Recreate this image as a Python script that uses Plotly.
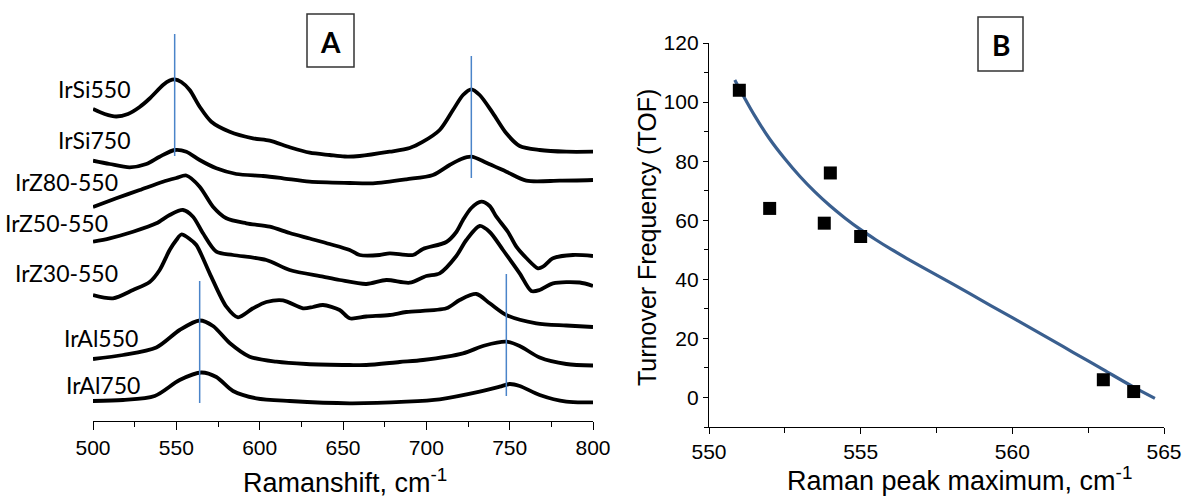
import plotly.graph_objects as go

W, H = 1187, 497

# ---- Panel A: stacked Raman spectra (offset intensities, a.u.) ----
si550_w = [500, 507, 514, 521, 528, 534, 542, 546, 549, 553, 558, 564, 571, 582, 596, 606, 618, 630, 642, 651,
           660, 678, 690, 698, 708, 716, 722, 727, 732, 740, 748, 756, 768, 784, 800]
si550_i = [331, 326, 323.5, 326, 333, 341.5, 355, 359.5, 360.7, 358, 350, 333.3, 318.3, 308.3, 301.7, 299.3, 292.7,
           287.3, 285, 283.5, 284, 288.3, 292, 298.3, 310, 330, 345, 350.7, 345, 326.7, 306.7, 294, 290, 288.3, 288.3]

si750_w = [500, 510, 522, 532, 540, 549, 556, 564, 574, 586, 602, 614, 630, 654, 668, 688, 704, 714, 721, 727,
           736, 748, 760, 780, 800]
si750_i = [279.3, 276, 272.7, 276, 283.3, 290, 288.3, 280, 271.7, 266, 264, 261.7, 258.3, 257, 256.7, 260.7, 265,
           275, 281, 283.3, 277.3, 268.3, 259.3, 259.3, 260]

z80_w = [500, 514, 528, 542, 550, 556, 564, 572, 580, 592, 606, 618, 630, 642, 654, 660, 672, 678, 692, 698,
         712, 718, 722, 727, 733, 738, 742, 749, 754, 760, 767, 770, 776, 788, 800]
z80_i = [233, 241.7, 250, 258.3, 262, 264.5, 253.3, 233.3, 221.7, 216.7, 213.3, 207, 201.5, 196, 190, 185, 185,
         186.7, 185, 191, 198, 208, 220, 232, 238.3, 234, 223.3, 208, 193.3, 182, 171.7, 173.3, 181.7, 185, 184]

z50_w = [500, 510, 524, 538, 546, 554, 560, 566, 574, 584, 604, 618, 638, 648, 664, 676, 690, 700, 708, 718,
         724, 732, 738, 746, 756, 763, 768, 776, 792, 800]
z50_i = [198.3, 201.7, 208.3, 216.7, 225, 230, 223.3, 206.7, 188.3, 185, 180, 170, 163.3, 160, 156, 160, 157.3,
         164, 166.7, 184, 200, 214, 208, 190, 166.7, 149, 150, 156.7, 157.5, 154]

z30_w = [500, 512, 524, 534, 540, 546, 550, 553, 558, 562, 570, 580, 587, 596, 604, 614, 626, 632, 638, 648,
         654, 664, 678, 688, 712, 720, 730, 738, 748, 766, 784, 800]
z30_i = [145, 141.7, 150, 158, 170, 190, 200, 205.5, 201, 195, 166.7, 133.3, 122.7, 131.7, 138, 139.7, 131.7,
         133, 135, 130, 121.7, 123.5, 125, 128, 131.7, 140, 146, 136.7, 125, 116.7, 114.5, 113]

al550_w = [500, 518, 538, 552, 564, 572, 582, 594, 610, 628, 654, 664, 684, 698, 722, 735, 748, 756, 768, 784, 800]
al550_i = [81, 85, 92.5, 110, 119.5, 114, 97, 83.3, 78.3, 76, 75, 75, 78, 80, 86.7, 94.5, 98.3, 94, 82.5, 76, 74.5]

al750_w = [500, 518, 537, 552, 565, 574, 584, 598, 618, 654, 688, 708, 732, 744, 750, 756, 768, 784, 800]
al750_i = [39, 40, 44, 60, 67.5, 63, 49, 41.7, 39, 36.7, 38.3, 40.7, 48.3, 53.3, 56, 54, 45, 38.3, 37.7]

spectra = [
    ("IrSi550", si550_w, si550_i),
    ("IrSi750", si750_w, si750_i),
    ("IrZ80-550", z80_w, z80_i),
    ("IrZ50-550", z50_w, z50_i),
    ("IrZ30-550", z30_w, z30_i),
    ("IrAl550", al550_w, al550_i),
    ("IrAl750", al750_w, al750_i),
]

# peak-position markers: wavenumber, lower and upper intensity
peak_mark_w = [549, 727, 564, 748]
peak_mark_lo = [284, 262, 37, 44]
peak_mark_hi = [406, 384, 159, 166]

# ---- Panel B: TOF vs Raman peak maximum ----
peak_max = [551, 552, 553.8, 554, 555, 563, 564]
tof = [104, 64, 59, 76, 54.5, 6, 2]

fit_x = [550.85, 551.5, 552, 552.5, 553, 553.5, 554, 554.5, 555, 555.5, 556, 556.5, 557, 558, 559, 560, 561, 562,
         563, 564, 564.7]
fit_y = [107.5, 95.5, 87.5, 80.8, 74.8, 69.5, 64.8, 60.6, 56.8, 53.4, 50.2, 47.2, 44.3, 38.6, 32.8, 27, 21.2, 15.3,
         9.4, 3.5, -0.3]

fig = go.Figure()

for name, w, inten in spectra:
    fig.add_trace(go.Scatter(x=w, y=inten, mode="lines", name=name,
                             line=dict(color="black", width=3.8, shape="spline", smoothing=0.8),
                             xaxis="x", yaxis="y", showlegend=False))

for xw, lo, hi in zip(peak_mark_w, peak_mark_lo, peak_mark_hi):
    fig.add_trace(go.Scatter(x=[xw, xw], y=[lo, hi], mode="lines",
                             line=dict(color="#4a84c9", width=1.5),
                             xaxis="x", yaxis="y", showlegend=False))

fig.add_trace(go.Scatter(x=fit_x, y=fit_y, mode="lines",
                         line=dict(color="#3a5f8f", width=3.2, shape="spline"),
                         xaxis="x2", yaxis="y2", showlegend=False))
fig.add_trace(go.Scatter(x=peak_max, y=tof, mode="markers",
                         marker=dict(symbol="square", size=13, color="black"),
                         xaxis="x2", yaxis="y2", showlegend=False))


def px(x):
    return x / W


def py(y):
    return 1 - y / H


tick_font = dict(family="Liberation Sans, Arial, sans-serif", size=21, color="black")
axis_common = dict(showline=True, linecolor="black", linewidth=1.4, ticks="outside", tickcolor="black",
                   tickwidth=1.4, showgrid=False, zeroline=False, tickfont=tick_font, automargin=False)

fig.update_layout(
    template="none",
    width=W, height=H,
    margin=dict(l=0, r=0, t=0, b=0, autoexpand=False),
    paper_bgcolor="white", plot_bgcolor="rgba(0,0,0,0)",
    xaxis=dict(domain=[px(93), px(593)], range=[500, 800], tickvals=[500, 550, 600, 650, 700, 750, 800],
               ticklen=8, minor=dict(dtick=25, tick0=500, ticklen=5, ticks="outside", tickcolor="black",
                                     tickwidth=1.4),
               anchor="y", **axis_common),
    yaxis=dict(domain=[py(421), py(30)], range=[19, 410], visible=False, anchor="x", automargin=False),
    xaxis2=dict(domain=[px(709), px(1164)], range=[550, 565], tickvals=[550, 555, 560, 565],
                ticklen=6, minor=dict(dtick=2.5, tick0=550, ticklen=5, ticks="outside", tickcolor="black",
                                      tickwidth=1.4),
                anchor="y2", **axis_common),
    yaxis2=dict(domain=[py(427), py(43)], range=[-10, 120], tickvals=[0, 20, 40, 60, 80, 100, 120],
                ticklen=5, minor=dict(dtick=10, tick0=0, ticklen=4, ticks="outside", tickcolor="black",
                                      tickwidth=1.4),
                anchor="x2", **axis_common),
)

label_font = dict(family="Lato, Carlito, sans-serif", size=23, color="black")
label_pos = [(132, 89), (132, 140), (120, 182), (110, 223), (120, 273), (140, 338), (142, 385)]
annotations = []
for (name, _, _), (lx, ly) in zip(spectra, label_pos):
    annotations.append(dict(text=name, x=px(lx), y=py(ly), xref="paper", yref="paper",
                            xanchor="right", yanchor="middle", showarrow=False, font=label_font))

title_font = dict(family="Liberation Sans, Arial, sans-serif", size=27, color="black")
annotations.append(dict(text="Ramanshift, cm<sup>-1</sup>", x=px(345), y=py(481), xref="paper", yref="paper",
                        xanchor="center", yanchor="middle", showarrow=False, font=title_font))
annotations.append(dict(text="Raman peak maximum, cm<sup>-1</sup>", x=px(959), y=py(479), xref="paper",
                        yref="paper", xanchor="center", yanchor="middle", showarrow=False, font=title_font))
annotations.append(dict(text="Turnover Frequency (TOF)", x=px(647), y=py(238), xref="paper", yref="paper",
                        xanchor="center", yanchor="middle", textangle=-90, showarrow=False,
                        font=dict(family="Liberation Sans, Arial, sans-serif", size=25, color="black")))

box_font = dict(family="Lato, Carlito, sans-serif", size=28, color="black")
shapes = []
for letter, (x0, y0, x1, y1) in [("A", (307, 14, 354, 67)), ("B", (978, 17, 1023, 71))]:
    shapes.append(dict(type="rect", xref="paper", yref="paper", x0=px(x0), x1=px(x1), y0=py(y1), y1=py(y0),
                       line=dict(color="#333333", width=1.5), fillcolor="white"))
    annotations.append(dict(text="<b>%s</b>" % letter, x=px((x0 + x1) / 2), y=py((y0 + y1) / 2 + 1),
                            xref="paper", yref="paper", xanchor="center", yanchor="middle", showarrow=False,
                            font=box_font))

fig.update_layout(annotations=annotations, shapes=shapes)

fig.write_html("out.html", config={"displayModeBar": False})
